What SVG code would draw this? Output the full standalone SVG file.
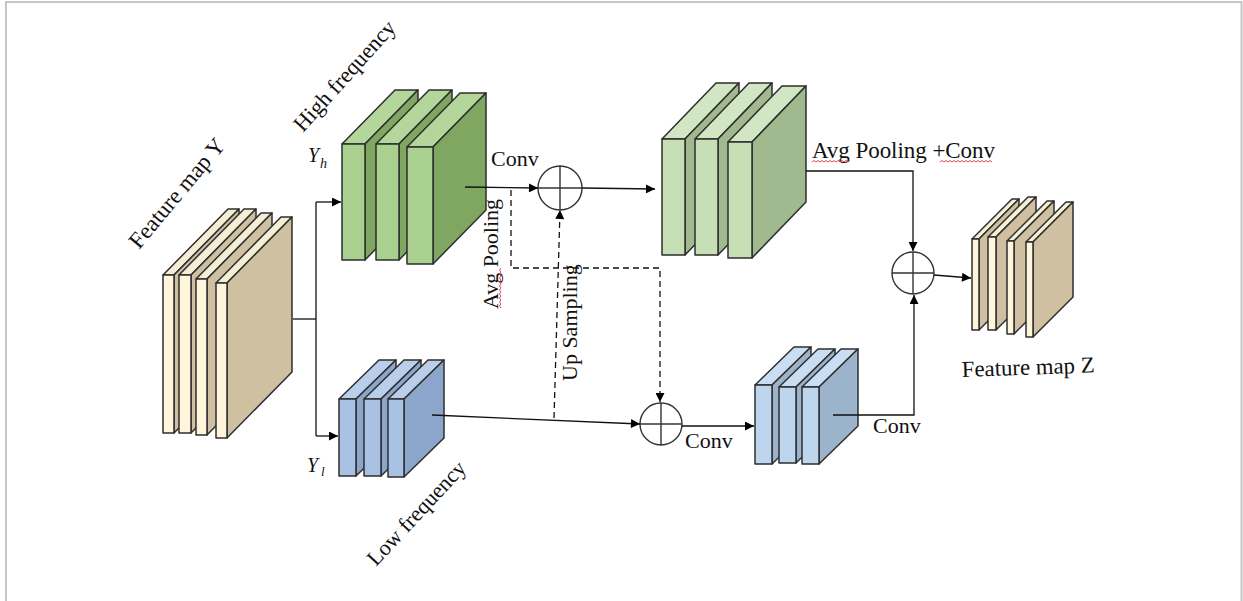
<svg xmlns="http://www.w3.org/2000/svg" width="1243" height="601" viewBox="0 0 1243 601">
<defs>
<marker id="ah" viewBox="0 0 10 10" refX="10" refY="5" markerWidth="11" markerHeight="9" markerUnits="userSpaceOnUse" orient="auto"><path d="M0,0 L10,5 L0,10 z" fill="#000"/></marker>
<style>
polygon{stroke:#2e2e2e;stroke-width:1.5;stroke-linejoin:round}
.yf{fill:#fef5da}.yt{fill:#f4eed4}.ys{fill:#cec0a0}
.gf{fill:#a9d08e}.gt{fill:#b3d69a}.gs{fill:#80a762}
.lf{fill:#c6dfb4}.lt{fill:#d1e6c2}.ls{fill:#a0b98e}
.bf{fill:#a9c2e4}.bt{fill:#b8ceea}.bs{fill:#8ca6cb}
.cf{fill:#bdd6ee}.ct{fill:#c9def2}.cs{fill:#9cb3cc}
.ln{fill:none;stroke:#111;stroke-width:1.3}
.dl{fill:none;stroke:#111;stroke-width:1.3;stroke-dasharray:6,4}
.ci{fill:#fff;stroke:#333;stroke-width:1.4}
.cx{stroke:#333;stroke-width:1.4}
.t{font-family:'Liberation Serif','Times New Roman',serif;fill:#111}
.wv{fill:none;stroke:#e04a4a;stroke-width:1}
</style>
</defs>
<rect x="6" y="2" width="1235.5" height="700" fill="#fff" stroke="#c6c6c6" stroke-width="2"/>

<g id="feature-map-y">
<polygon class="yt" points="163,275 228,209 239,209 174,275"/><polygon class="ys" points="174,275 239,209 239,367 174,433"/><polygon class="yf" points="163,275 174,275 174,433 163,433"/>
<polygon class="yt" points="179,275 244,209 256,209 191,275"/><polygon class="ys" points="191,275 256,209 256,367 191,433"/><polygon class="yf" points="179,275 191,275 191,433 179,433"/>
<polygon class="yt" points="196,279 261,213 272,213 207,279"/><polygon class="ys" points="207,279 272,213 272,369 207,435"/><polygon class="yf" points="196,279 207,279 207,435 196,435"/>
<polygon class="yt" points="216,283 281,217 292,217 227,283"/><polygon class="ys" points="227,283 292,217 292,372 227,438"/><polygon class="yf" points="216,283 227,283 227,438 216,438"/>
<text class="t" font-size="23" transform="translate(139,250) rotate(-50)">Feature map Y</text>
</g>

<g id="high-frequency">
<polygon class="gt" points="342,144 395,90 418,90 365,144"/><polygon class="gs" points="365,144 418,90 418,206 365,260"/><polygon class="gf" points="342,144 365,144 365,260 342,260"/>
<polygon class="gt" points="376,144 429,90 452,90 399,144"/><polygon class="gs" points="399,144 452,90 452,206 399,260"/><polygon class="gf" points="376,144 399,144 399,260 376,260"/>
<polygon class="gt" points="407,147 460,93 486,93 433,147"/><polygon class="gs" points="433,147 486,93 486,210 433,264"/><polygon class="gf" points="407,147 433,147 433,264 407,264"/>
<text class="t" font-size="22.5" transform="translate(303,133) rotate(-48)">High frequency</text>
<text class="t" font-size="20" font-style="italic" x="308" y="162">Y</text><text class="t" font-size="14" font-style="italic" x="320" y="168">h</text>
</g>

<g id="high-frequency-out">
<polygon class="lt" points="662,139 716,83 739,83 685,139"/><polygon class="ls" points="685,139 739,83 739,199 685,255"/><polygon class="lf" points="662,139 685,139 685,255 662,255"/>
<polygon class="lt" points="695,139 749,83 772,83 718,139"/><polygon class="ls" points="718,139 772,83 772,199 718,255"/><polygon class="lf" points="695,139 718,139 718,255 695,255"/>
<polygon class="lt" points="728,142 782,86 806,86 752,142"/><polygon class="ls" points="752,142 806,86 806,202 752,258"/><polygon class="lf" points="728,142 752,142 752,258 728,258"/>
</g>

<g id="low-frequency">
<polygon class="bt" points="339,399 379,360 396,360 356,399"/><polygon class="bs" points="356,399 396,360 396,437 356,476"/><polygon class="bf" points="339,399 356,399 356,476 339,476"/>
<polygon class="bt" points="364,399 404,360 421,360 381,399"/><polygon class="bs" points="381,399 421,360 421,437 381,476"/><polygon class="bf" points="364,399 381,399 381,476 364,476"/>
<polygon class="bt" points="388,399 428,360 444,360 404,399"/><polygon class="bs" points="404,399 444,360 444,438 404,477"/><polygon class="bf" points="388,399 404,399 404,477 388,477"/>
<text class="t" font-size="22" transform="translate(376,567) rotate(-47)">Low frequency</text>
<text class="t" font-size="20" font-style="italic" x="307" y="472">Y</text><text class="t" font-size="13" font-style="italic" x="321" y="476">l</text>
</g>

<g id="low-frequency-out">
<polygon class="ct" points="755,385 794,347 811,347 772,385"/><polygon class="cs" points="772,385 811,347 811,426 772,464"/><polygon class="cf" points="755,385 772,385 772,464 755,464"/>
<polygon class="ct" points="779,387 818,349 835,349 796,387"/><polygon class="cs" points="796,387 835,349 835,425 796,463"/><polygon class="cf" points="779,387 796,387 796,463 779,463"/>
<polygon class="ct" points="802,387 841,349 858,349 819,387"/><polygon class="cs" points="819,387 858,349 858,426 819,464"/><polygon class="cf" points="802,387 819,387 819,464 802,464"/>
</g>

<g id="feature-map-z">
<polygon class="yt" points="972,239 1012,199 1019,199 979,239"/><polygon class="ys" points="979,239 1019,199 1019,290 979,330"/><polygon class="yf" points="972,239 979,239 979,330 972,330"/>
<polygon class="yt" points="988,237 1028,197 1036,197 996,237"/><polygon class="ys" points="996,237 1036,197 1036,290 996,330"/><polygon class="yf" points="988,237 996,237 996,330 988,330"/>
<polygon class="yt" points="1007,241 1047,201 1054,201 1014,241"/><polygon class="ys" points="1014,241 1054,201 1054,294 1014,334"/><polygon class="yf" points="1007,241 1014,241 1014,334 1007,334"/>
<polygon class="yt" points="1026,242 1066,202 1073,202 1033,242"/><polygon class="ys" points="1033,242 1073,202 1073,297 1033,337"/><polygon class="yf" points="1026,242 1033,242 1033,337 1026,337"/>
<text class="t" font-size="22.8" transform="translate(962,377) rotate(-2)">Feature map Z</text>
</g>

<g id="sum-high">
<circle class="ci" cx="560" cy="188" r="22"/><line class="cx" x1="538" y1="188" x2="582" y2="188"/><line class="cx" x1="560" y1="166" x2="560" y2="210"/>
</g>
<g id="sum-low">
<circle class="ci" cx="661" cy="424" r="21"/><line class="cx" x1="640" y1="424" x2="682" y2="424"/><line class="cx" x1="661" y1="403" x2="661" y2="445"/>
</g>
<g id="sum-out">
<circle class="ci" cx="913" cy="273" r="21"/><line class="cx" x1="892" y1="273" x2="934" y2="273"/><line class="cx" x1="913" y1="252" x2="913" y2="294"/>
</g>

<g id="connectors">
<path class="ln" d="M293,319 H316"/>
<path class="ln" d="M316,202 V436"/>
<path class="ln" d="M316,202 H341" marker-end="url(#ah)"/>
<path class="ln" d="M316,436 H338" marker-end="url(#ah)"/>
<path class="ln" d="M465,187 L538,188" marker-end="url(#ah)"/>
<path class="ln" d="M582,188 L655,189" marker-end="url(#ah)"/>
<path class="dl" d="M511,190 V268 H660 V402" marker-end="url(#ah)"/>
<path class="dl" d="M554,418 L560,210" marker-end="url(#ah)"/>
<path class="ln" d="M432,415 L640,424" marker-end="url(#ah)"/>
<path class="ln" d="M682,426 H754" marker-end="url(#ah)"/>
<path class="ln" d="M833,415 H914 V295" marker-end="url(#ah)"/>
<path class="ln" d="M806,171 H913 V251" marker-end="url(#ah)"/>
<path class="ln" d="M934,275 L971,278" marker-end="url(#ah)"/>
<text class="t" font-size="22" x="491" y="166">Conv</text>
<text class="t" font-size="22" x="685" y="448">Conv</text>
<text class="t" font-size="22" x="873" y="433">Conv</text>
<text class="t" font-size="23" x="812" y="158" textLength="183" lengthAdjust="spacing">Avg Pooling +Conv</text>
<text class="t" font-size="22" transform="translate(498,309) rotate(-90)" textLength="110" lengthAdjust="spacing">Avg Pooling</text>
<text class="t" font-size="22" transform="translate(577,381) rotate(-90)">Up Sampling</text>
<path class="wv" d="M812,162 l2,-1.5 2,1.5 2,-1.5 2,1.5 2,-1.5 2,1.5 2,-1.5 2,1.5 2,-1.5 2,1.5 2,-1.5 2,1.5 2,-1.5 2,1.5 2,-1.5 2,1.5 2,-1.5 2,1.5 2,-1.5"/>
<path class="wv" d="M940,162 l2,-1.5 2,1.5 2,-1.5 2,1.5 2,-1.5 2,1.5 2,-1.5 2,1.5 2,-1.5 2,1.5 2,-1.5 2,1.5 2,-1.5 2,1.5 2,-1.5 2,1.5 2,-1.5 2,1.5 2,-1.5 2,1.5 2,-1.5 2,1.5 2,-1.5 2,1.5 2,-1.5 2,1.5"/>
<path class="wv" d="M501,268 l-1.5,2 1.5,2 -1.5,2 1.5,2 -1.5,2 1.5,2 -1.5,2 1.5,2 -1.5,2 1.5,2 -1.5,2 1.5,2 -1.5,2 1.5,2 -1.5,2 1.5,2 -1.5,2 1.5,2 -1.5,2 1.5,2"/>
</g>
</svg>
